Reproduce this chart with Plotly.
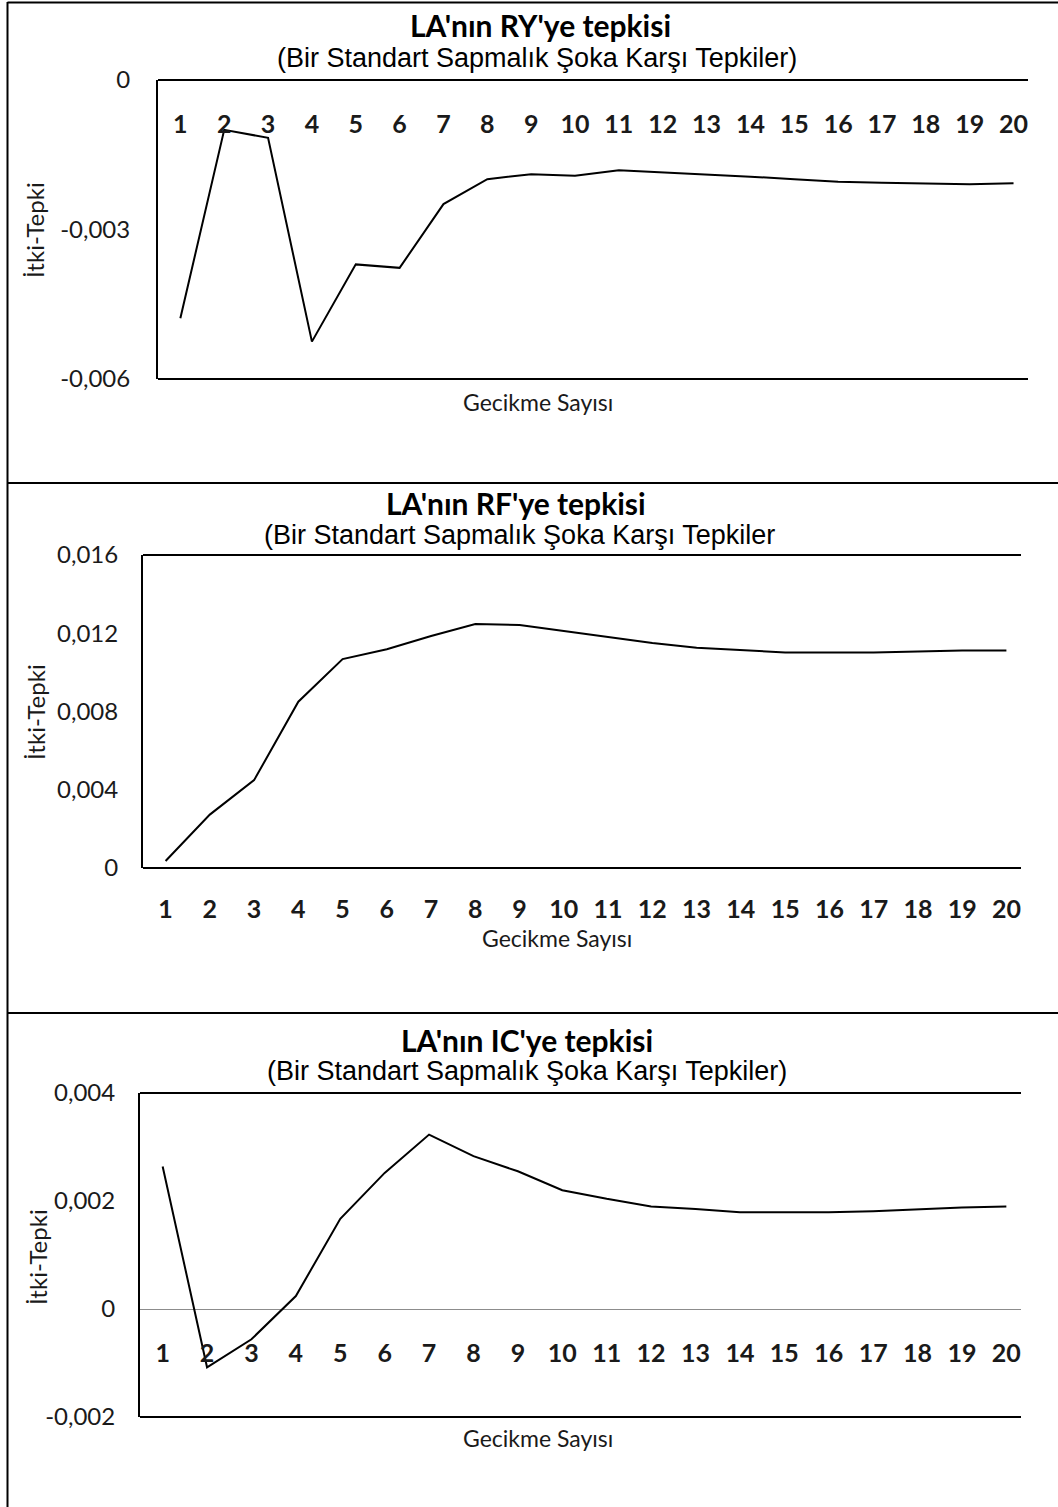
import plotly.graph_objects as go

# ---------------- data ----------------
lags = list(range(1, 21))
lag_labels = [str(v) for v in lags]

ry_response = [-0.00478, -0.00100, -0.00116, -0.00525, -0.00370, -0.00377, -0.00249,
               -0.00199, -0.00189, -0.00192, -0.00181, -0.00185, -0.00189, -0.00194,
               -0.00199, -0.00204, -0.00206, -0.00207, -0.00209, -0.00207]
rf_response = [0.00036, 0.00273, 0.00449, 0.00850, 0.01068, 0.01118, 0.01186,
               0.01247, 0.01242, 0.01212, 0.01180, 0.01150, 0.01126, 0.01114,
               0.01102, 0.01102, 0.01102, 0.01107, 0.01112, 0.01112]
ic_response = [0.00264, -0.00108, -0.00056, 0.00024, 0.00167, 0.00252, 0.00323,
               0.00283, 0.00255, 0.00220, 0.00204, 0.00190, 0.00185, 0.00179,
               0.00179, 0.00179, 0.00181, 0.00185, 0.00188, 0.00190]

ry_tickvals = [0, -0.003, -0.006]
ry_ticktext = ["0", "-0,003", "-0,006"]
rf_tickvals = [0, 0.004, 0.008, 0.012, 0.016]
rf_ticktext = ["0", "0,004", "0,008", "0,012", "0,016"]
ic_tickvals = [-0.002, 0, 0.002, 0.004]
ic_ticktext = ["-0,002", "0", "0,002", "0,004"]

titles = ["LA'nın RY'ye tepkisi", "LA'nın RF'ye tepkisi", "LA'nın IC'ye tepkisi"]
subtitles = ["(Bir Standart Sapmalık Şoka Karşı Tepkiler)",
             "(Bir Standart Sapmalık Şoka Karşı Tepkiler",
             "(Bir Standart Sapmalık Şoka Karşı Tepkiler)"]
x_title = "Gecikme Sayısı"
y_title = "İtki-Tepki"

# ---------------- layout helpers ----------------
W, H = 1058, 1507
def px_x(v):
    return v / W
def px_y(v):
    return 1 - v / H

FONT = "Lato"
TXT = "#1a1a1a"

# plot frames (left, right, top, bottom) in px
frames = [(158, 1028, 80, 379), (143, 1021, 555, 868), (140, 1021, 1093, 1417)]
yranges = [[-0.006, 0], [0, 0.016], [-0.002, 0.004]]
series = [ry_response, rf_response, ic_response]
ytv = [ry_tickvals, rf_tickvals, ic_tickvals]
ytt = [ry_ticktext, rf_ticktext, ic_ticktext]
xrange_ = [0.49, 20.33]
# value where the horizontal (category) axis crosses; None -> at the bottom
cross_val = [0, None, 0]
label_standoff = [27, 24, 27]
ylabel_standoff = [21, 18, 18]

fig = go.Figure()
layout = dict(width=W, height=H, margin=dict(l=0, r=0, t=0, b=0, autoexpand=False),
              paper_bgcolor="white", plot_bgcolor="white", showlegend=False,
              font=dict(family=FONT, color=TXT))

XFONT = dict(family=FONT, size=25, weight="bold", color=TXT)
shapes = []

for i in range(3):
    xa = "xaxis" if i == 0 else f"xaxis{i+1}"
    ya = "yaxis" if i == 0 else f"yaxis{i+1}"
    xr = "x" if i == 0 else f"x{i+1}"
    yr = "y" if i == 0 else f"y{i+1}"
    l, r, t, b = frames[i]
    lo, hi = yranges[i]
    xdict = dict(domain=[px_x(l), px_x(r)], range=xrange_, tickvals=lags, ticktext=lag_labels,
                 tickfont=XFONT, ticks="", showgrid=False, zeroline=False, side="bottom",
                 ticklabelstandoff=label_standoff[i], showline=False,
                 fixedrange=True, automargin=False)
    if cross_val[i] is None:
        xdict["anchor"] = yr
    else:
        frac = (cross_val[i] - lo) / (hi - lo)
        xdict["anchor"] = "free"
        xdict["position"] = px_y(b) + frac * (px_y(t) - px_y(b))
    layout[xa] = xdict
    layout[ya] = dict(domain=[px_y(b), px_y(t)], anchor=xr, range=yranges[i],
                      tickvals=ytv[i], ticktext=ytt[i], ticklabelstandoff=ylabel_standoff[i],
                      tickfont=dict(family=FONT, size=24, color=TXT),
                      showline=True, mirror=False, linecolor="black", linewidth=2,
                      ticks="", showgrid=False, automargin=False,
                      zeroline=(i == 2), zerolinecolor="#8c8c8c", zerolinewidth=1,
                      fixedrange=True)
    fig.add_trace(go.Scatter(x=lags, y=series[i], mode="lines",
                             line=dict(color="black", width=2),
                             xaxis=xr, yaxis=yr, hoverinfo="skip"))
    # plot-area top and bottom border lines
    for yy in (0, 1):
        shapes.append(dict(type="line", xref=f"{xr} domain", yref=f"{yr} domain",
                           x0=0, x1=1, y0=yy, y1=yy, line=dict(color="black", width=2)))

fig.update_layout(**layout)

# text annotations (titles, subtitles, axis titles)
title_pos = [(540, 25), (516, 503), (527, 1040)]
sub_pos = [(537, 58), (519, 535), (527, 1071)]
xt_pos = [(538, 402), (557, 938), (538, 1438)]
yt_pos = [(35, 230), (35, 712), (37, 1257)]
ann = []
for i in range(3):
    ann.append(dict(text=titles[i], x=px_x(title_pos[i][0]), y=px_y(title_pos[i][1]),
                    xref="paper", yref="paper", showarrow=False,
                    font=dict(family=FONT, size=30, weight="bold", color="black"),
                    xanchor="center", yanchor="middle"))
    ann.append(dict(text=subtitles[i], x=px_x(sub_pos[i][0]), y=px_y(sub_pos[i][1]),
                    xref="paper", yref="paper", showarrow=False,
                    font=dict(family="Liberation Sans", size=27, color="black"),
                    xanchor="center", yanchor="middle"))
    ann.append(dict(text=x_title, x=px_x(xt_pos[i][0]), y=px_y(xt_pos[i][1]),
                    xref="paper", yref="paper", showarrow=False,
                    font=dict(family=FONT, size=23, color=TXT),
                    xanchor="center", yanchor="middle"))
    ann.append(dict(text=y_title, x=px_x(yt_pos[i][0]), y=px_y(yt_pos[i][1]),
                    xref="paper", yref="paper", showarrow=False, textangle=-90,
                    font=dict(family=FONT, size=24, color=TXT),
                    xanchor="center", yanchor="middle"))
fig.update_layout(annotations=ann)

# table cell borders
shapes += [
    dict(type="line", xref="paper", yref="paper", x0=px_x(7.5), x1=px_x(7.5), y0=0, y1=px_y(2),
         line=dict(color="black", width=2)),
    dict(type="line", xref="paper", yref="paper", x0=px_x(7.5), x1=1, y0=px_y(2.5), y1=px_y(2.5),
         line=dict(color="black", width=2)),
    dict(type="line", xref="paper", yref="paper", x0=px_x(7.5), x1=1, y0=px_y(483), y1=px_y(483),
         line=dict(color="black", width=2)),
    dict(type="line", xref="paper", yref="paper", x0=px_x(7.5), x1=1, y0=px_y(1013), y1=px_y(1013),
         line=dict(color="black", width=2)),
]
fig.update_layout(shapes=shapes)

fig.write_html("out.html", config={"displayModeBar": False},
               post_script="document.body.style.margin='0';document.body.style.overflow='hidden';")
